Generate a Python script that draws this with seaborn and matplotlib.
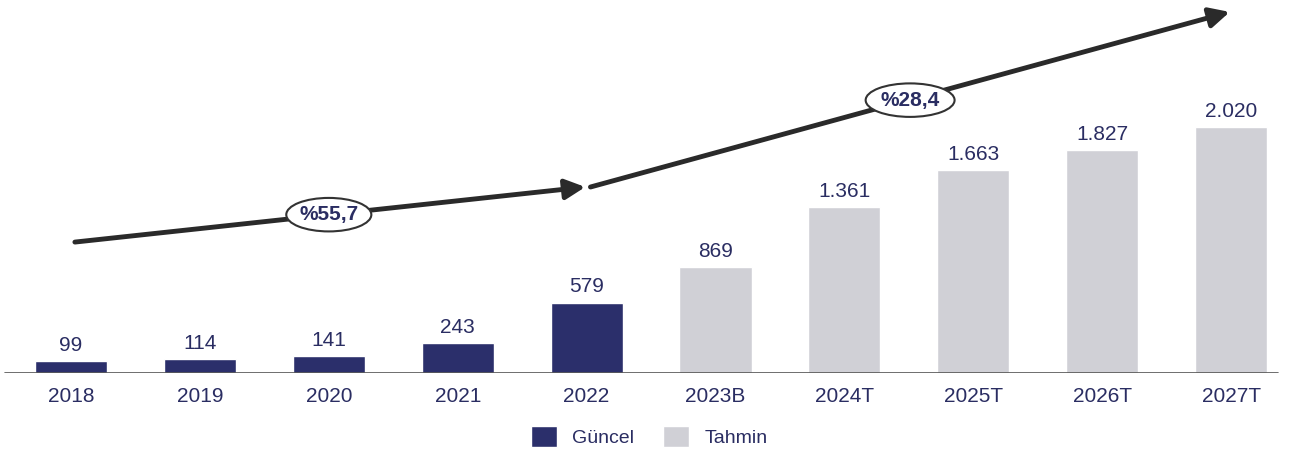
import pandas as pd
import seaborn as sns
import matplotlib.pyplot as plt
from matplotlib.patches import Patch, Ellipse

# Values
years = ['2018', '2019', '2020', '2021', '2022', '2023B', '2024T', '2025T', '2026T', '2027T']
values = [99, 114, 141, 243, 579, 869, 1361, 1663, 1827, 2020]
kind = ['Güncel'] * 5 + ['Tahmin'] * 5
value_labels = ['99', '114', '141', '243', '579', '869', '1.361', '1.663', '1.827', '2.020']
growth_labels = ['%55,7', '%28,4']

NAVY = '#2b2f6b'
GREY = '#d0d0d6'
TEXT = '#2a2d62'

df = pd.DataFrame({'Year': years, 'Value': values, 'Kind': kind})

sns.set_style('white')
plt.rcParams['font.family'] = ['Liberation Sans', 'DejaVu Sans']

fig = plt.figure(figsize=(12.91, 4.5), dpi=100)
ax = fig.add_axes([0, 0.171, 1, 0.829])

sns.barplot(data=df, x='Year', y='Value', hue='Kind', dodge=False,
            palette={'Güncel': NAVY, 'Tahmin': GREY}, width=0.56,
            saturation=1, legend=False, ax=ax)

ax.set_xlim(-0.551, 9.465)
ax.set_ylim(0, 3062)
for s in ax.spines.values():
    s.set_visible(False)
ax.axhline(0, xmin=0.004, xmax=0.99, color='#555555', lw=1.2)

# value labels on bars
for i, (v, lab) in enumerate(zip(values, value_labels)):
    ax.text(i, v + 50, lab, ha='center', va='bottom', fontsize=15, color=TEXT)

ax.set_xlabel('')
ax.set_ylabel('')
ax.set_yticks([])
ax.tick_params(axis='x', length=0, pad=10, labelsize=15, labelcolor=TEXT)

# growth arrows
arrow_kw = dict(arrowstyle='-|>', mutation_scale=30, lw=3.5, color='#2a2a2a',
                shrinkA=0, shrinkB=0)
ax.annotate('', xy=(3.99, 1527), xytext=(0.03, 1075), arrowprops=arrow_kw,
            annotation_clip=False)
ax.annotate('', xy=(8.99, 2964), xytext=(4.03, 1527), arrowprops=arrow_kw,
            annotation_clip=False)

# growth rate ellipses
for (cx, cy, w, h), lab in zip([(2.0, 1300, 0.66, 275), (6.51, 2240, 0.69, 275)],
                               growth_labels):
    ax.add_patch(Ellipse((cx, cy), w, h, fc='white', ec='#333333', lw=1.5, zorder=4))
    ax.text(cx, cy, lab, ha='center', va='center', fontsize=15,
            fontweight='bold', color=TEXT, zorder=5)

handles = [Patch(facecolor=NAVY, label='Güncel'), Patch(facecolor=GREY, label='Tahmin')]
fig.legend(handles=handles, loc='center', bbox_to_anchor=(0.503, 0.03), ncol=2,
           frameon=False, fontsize=14, handlelength=1.3, handleheight=1.3,
           handletextpad=0.8, columnspacing=1.5, labelcolor=TEXT)

fig.savefig('out.png', dpi=100)
